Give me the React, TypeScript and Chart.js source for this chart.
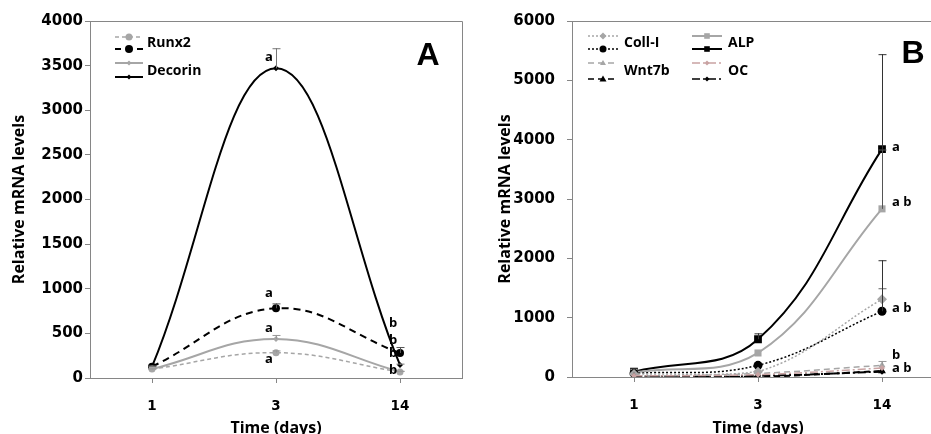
import React, { useEffect, useRef } from 'react';
import { Chart, registerables } from 'chart.js';

Chart.register(...registerables);

// ---------- shared ----------
const days = ['1', '3', '14'];

// ---------- Panel A ----------
const yMaxA = 4000;
const yStepA = 500;
const runx2Gray = [100, 284, 68];
const runx2GrayErr = [8, 25, 12];
const runx2Black = [127, 781, 280];
const runx2BlackErr = [12, 55, 67];
const decorinGray = [100, 437, 70];
const decorinGrayErr = [8, 45, 10];
const decorinBlack = [127, 3470, 146];
const decorinBlackErr = [10, 225, 15];
const lettersA = [
  { day: 1, value: 3597, text: 'a' },
  { day: 1, value: 952, text: 'a' },
  { day: 1, value: 560, text: 'a' },
  { day: 1, value: 213, text: 'a' },
  { day: 2, value: 616, text: 'b' },
  { day: 2, value: 426, text: 'b' },
  { day: 2, value: 280, text: 'b' },
  { day: 2, value: 90, text: 'b' },
];

// ---------- Panel B ----------
const yMaxB = 6000;
const yStepB = 1000;
const coll1Gray = [50, 90, 1311];
const coll1GrayErr = [0, 0, 185];
const coll1Black = [60, 197, 1108];
const coll1BlackErr = [0, 0, 860];
const wnt7bGray = [10, 60, 197];
const wnt7bGrayErr = [0, 0, 73];
const wnt7bBlack = [5, 5, 101];
const wnt7bBlackErr = [0, 0, 0];
const alpGray = [80, 405, 2834];
const alpGrayErr = [0, 0, 1000];
const alpBlack = [90, 636, 3841];
const alpBlackErr = [0, 100, 1600];
const ocGray = [20, 40, 150];
const ocBlack = [10, 20, 90];
const lettersB = [
  { day: 2, value: 3875, text: 'a' },
  { day: 2, value: 2947, text: 'a b' },
  { day: 2, value: 1159, text: 'a b' },
  { day: 2, value: 366, text: 'b' },
  { day: 2, value: 147, text: 'a b' },
];

const GRAY = '#a6a6a6';
const PINK = '#c9a3a3';
const BLACK = '#000000';
const AXIS = '#868686';

const DOTTED = [2, 2];
const DASHED = [6, 4];
const DASHDOT = [8, 3, 2, 3];

// ---------- helpers ----------
function drawMarker(ctx: CanvasRenderingContext2D, style: string, x: number, y: number, r: number, color: string) {
  ctx.save();
  ctx.setLineDash([]);
  ctx.fillStyle = color;
  ctx.beginPath();
  if (style === 'circle') {
    ctx.arc(x, y, r, 0, Math.PI * 2);
  } else if (style === 'rect') {
    ctx.rect(x - r * 0.8, y - r * 0.8, r * 1.6, r * 1.6);
  } else if (style === 'rectRot') {
    ctx.moveTo(x, y - r);
    ctx.lineTo(x + r, y);
    ctx.lineTo(x, y + r);
    ctx.lineTo(x - r, y);
    ctx.closePath();
  } else if (style === 'triangle') {
    ctx.moveTo(x, y - r);
    ctx.lineTo(x + r, y + r * 0.7);
    ctx.lineTo(x - r, y + r * 0.7);
    ctx.closePath();
  }
  ctx.fill();
  ctx.restore();
}

type LegendSample = { x1: number; x2: number; y: number; color: string; dash: number[]; width: number; marker: string; r: number };
type LegendText = { x: number; y: number; text: string };

function makeDecorPlugin(opts: {
  samples: LegendSample[];
  texts: LegendText[];
  letters: { day: number; value: number; text: string }[];
  letterDx: number;
  letterAlign: CanvasTextAlign;
  big: { x: number; y: number; text: string };
}) {
  return {
    id: 'decor',
    beforeDatasetsDraw(chart: any) {
      const { ctx, chartArea } = chart;
      ctx.save();
      ctx.strokeStyle = AXIS;
      ctx.lineWidth = 1;
      ctx.beginPath();
      ctx.moveTo(chartArea.left, chartArea.top + 0.5);
      ctx.lineTo(chartArea.right + 0.5, chartArea.top + 0.5);
      ctx.lineTo(chartArea.right + 0.5, chartArea.bottom);
      ctx.stroke();
      ctx.restore();
    },
    afterDatasetsDraw(chart: any) {
      const { ctx } = chart;
      const ys = chart.scales.y;
      // error bars (upper)
      chart.data.datasets.forEach((ds: any, i: number) => {
        const errs: number[] | undefined = ds.errors;
        if (!errs) return;
        const meta = chart.getDatasetMeta(i);
        meta.data.forEach((pt: any, j: number) => {
          const e = errs[j];
          if (!e) return;
          const top = ys.getPixelForValue((ds.data[j] as number) + e);
          ctx.save();
          ctx.setLineDash([]);
          ctx.strokeStyle = ds.errorColor || '#555';
          ctx.lineWidth = 1;
          ctx.beginPath();
          ctx.moveTo(pt.x + 0.5, pt.y);
          ctx.lineTo(pt.x + 0.5, top);
          ctx.moveTo(pt.x - 3.5, top + 0.5);
          ctx.lineTo(pt.x + 4.5, top + 0.5);
          ctx.stroke();
          ctx.restore();
        });
      });
      // legend samples
      opts.samples.forEach((s) => {
        ctx.save();
        ctx.strokeStyle = s.color;
        ctx.lineWidth = s.width;
        ctx.setLineDash(s.dash);
        ctx.beginPath();
        ctx.moveTo(s.x1, s.y);
        ctx.lineTo(s.x2, s.y);
        ctx.stroke();
        ctx.restore();
        drawMarker(ctx, s.marker, (s.x1 + s.x2) / 2, s.y, s.r, s.color);
      });
      ctx.save();
      ctx.fillStyle = '#000';
      ctx.font = 'bold 14px "Open Sans"';
      ctx.textAlign = 'left';
      ctx.textBaseline = 'middle';
      opts.texts.forEach((t) => ctx.fillText(t.text, t.x, t.y));
      // significance letters
      const xs = chart.scales.x;
      ctx.font = 'bold 13px "Open Sans"';
      ctx.textAlign = opts.letterAlign;
      opts.letters.forEach((l) => {
        ctx.fillText(l.text, xs.getPixelForValue(l.day) + opts.letterDx, ys.getPixelForValue(l.value));
      });
      // panel letter
      ctx.font = 'bold 32px "Liberation Sans"';
      ctx.textAlign = 'center';
      ctx.fillText(opts.big.text, opts.big.x, opts.big.y);
      ctx.restore();
    },
  };
}

function makeScales(o: { yMax: number; yStep: number; yWidth: number; xHeight: number; yTickPad: number; yTitlePad: number; xTitlePad: number }) {
  return {
    x: {
      type: 'category',
      offset: true,
      grid: { display: true, drawOnChartArea: false, drawTicks: true, tickLength: 5, color: AXIS, offset: false },
      border: { display: true, color: AXIS, width: 1 },
      ticks: { font: { family: 'DejaVu Sans', weight: 'bold', size: 13.5 }, color: '#000', padding: 15 },
      title: {
        display: true,
        text: 'Time (days)',
        color: '#000',
        font: { family: 'Open Sans', weight: 'bold', size: 16 },
        padding: { top: 0, bottom: o.xTitlePad },
      },
      afterFit: (s: any) => {
        s.height = o.xHeight;
      },
    },
    y: {
      type: 'linear',
      min: 0,
      max: o.yMax,
      grid: { display: true, drawOnChartArea: false, drawTicks: true, tickLength: 5, color: AXIS },
      border: { display: true, color: AXIS, width: 1 },
      ticks: {
        stepSize: o.yStep,
        font: { family: 'DejaVu Sans', weight: 'bold', size: 15 },
        color: '#000',
        padding: o.yTickPad,
        callback: (v: any) => String(v),
      },
      title: {
        display: true,
        text: 'Relative mRNA levels',
        color: '#000',
        font: { family: 'Open Sans', weight: 'bold', size: 16 },
        padding: { top: o.yTitlePad, bottom: 0 },
      },
      afterFit: (s: any) => {
        s.width = o.yWidth;
      },
    },
  };
}

function ds(label: string, data: number[], color: string, dash: number[], width: number, marker: string, r: number, errors?: number[], errorColor?: string) {
  return {
    label,
    data,
    borderColor: color,
    backgroundColor: color,
    borderWidth: width,
    borderDash: dash,
    pointStyle: marker,
    pointRadius: r,
    pointHoverRadius: r,
    pointBackgroundColor: color,
    pointBorderColor: color,
    pointBorderWidth: 0,
    tension: 0.4,
    fill: false,
    errors,
    errorColor,
  };
}

function configA(): any {
  const samples: LegendSample[] = [
    { x1: 115, x2: 143, y: 37, color: GRAY, dash: [4, 3], width: 1.5, marker: 'circle', r: 3.5 },
    { x1: 115, x2: 143, y: 49, color: BLACK, dash: [6, 5], width: 2, marker: 'circle', r: 4 },
    { x1: 115, x2: 143, y: 63, color: GRAY, dash: [], width: 2, marker: 'rectRot', r: 2.5 },
    { x1: 115, x2: 143, y: 77, color: BLACK, dash: [], width: 2, marker: 'rectRot', r: 2.5 },
  ];
  return {
    type: 'line',
    data: {
      labels: days,
      datasets: [
        ds('Runx2', runx2Gray, GRAY, [4, 3], 1.5, 'circle', 3.5, runx2GrayErr, '#999'),
        ds('Decorin', decorinGray, GRAY, [], 2, 'rectRot', 3, decorinGrayErr, '#999'),
        ds('Runx2', runx2Black, BLACK, [7, 5], 2, 'circle', 4, runx2BlackErr, '#555'),
        ds('Decorin', decorinBlack, BLACK, [], 2, 'rectRot', 3, decorinBlackErr, '#777'),
      ],
    },
    options: {
      responsive: false,
      animation: false,
      layout: { padding: { left: 0, right: 8, top: 21, bottom: 0 } },
      plugins: { legend: { display: false }, tooltip: { enabled: false } },
      scales: makeScales({ yMax: yMaxA, yStep: yStepA, yWidth: 90, xHeight: 72, yTickPad: 2, yTitlePad: 9.4, xTitlePad: 12.4 }),
    },
    plugins: [
      makeDecorPlugin({
        samples,
        texts: [
          { x: 147, y: 43, text: 'Runx2' },
          { x: 147, y: 71, text: 'Decorin' },
        ],
        letters: lettersA,
        letterDx: -7,
        letterAlign: 'center',
        big: { x: 428, y: 56, text: 'A' },
      }),
    ],
  };
}

function configB(): any {
  const off = 470;
  const samples: LegendSample[] = [
    { x1: 588 - off, x2: 618 - off, y: 36, color: GRAY, dash: DOTTED, width: 1.5, marker: 'rectRot', r: 3.5 },
    { x1: 588 - off, x2: 618 - off, y: 49, color: BLACK, dash: DOTTED, width: 1.5, marker: 'circle', r: 3.5 },
    { x1: 588 - off, x2: 618 - off, y: 63, color: GRAY, dash: DASHED, width: 1.5, marker: 'triangle', r: 3 },
    { x1: 588 - off, x2: 618 - off, y: 79, color: BLACK, dash: DASHED, width: 1.5, marker: 'triangle', r: 3.5 },
    { x1: 692 - off, x2: 722 - off, y: 36, color: GRAY, dash: [], width: 2, marker: 'rect', r: 3.5 },
    { x1: 692 - off, x2: 722 - off, y: 49, color: BLACK, dash: [], width: 2, marker: 'rect', r: 3.5 },
    { x1: 692 - off, x2: 722 - off, y: 63, color: PINK, dash: DASHDOT, width: 1.5, marker: 'rectRot', r: 2.5 },
    { x1: 692 - off, x2: 722 - off, y: 79, color: BLACK, dash: DASHDOT, width: 1.5, marker: 'rectRot', r: 2.5 },
  ];
  return {
    type: 'line',
    data: {
      labels: days,
      datasets: [
        ds('OC', ocGray, PINK, DASHDOT, 1.5, 'rectRot', 3),
        ds('OC', ocBlack, BLACK, DASHDOT, 2, 'rectRot', 3),
        ds('Wnt7b', wnt7bGray, GRAY, DASHED, 1.5, 'triangle', 4, wnt7bGrayErr, '#999'),
        ds('Wnt7b', wnt7bBlack, BLACK, DASHED, 2, 'triangle', 4.5, wnt7bBlackErr, '#555'),
        ds('Coll-I', coll1Gray, GRAY, DOTTED, 1.5, 'rectRot', 5, coll1GrayErr, '#666'),
        ds('Coll-I', coll1Black, BLACK, DOTTED, 1.5, 'circle', 4.5, coll1BlackErr, '#333'),
        ds('ALP', alpGray, GRAY, [], 2, 'rect', 5, alpGrayErr, '#555'),
        ds('ALP', alpBlack, BLACK, [], 2, 'rect', 5.5, alpBlackErr, '#333'),
      ],
    },
    options: {
      responsive: false,
      animation: false,
      layout: { padding: { left: 0, right: 8, top: 21, bottom: 0 } },
      plugins: { legend: { display: false }, tooltip: { enabled: false } },
      scales: makeScales({ yMax: yMaxB, yStep: yStepB, yWidth: 102, xHeight: 73, yTickPad: 12, yTitlePad: 25.4, xTitlePad: 12.4 }),
    },
    plugins: [
      makeDecorPlugin({
        samples,
        texts: [
          { x: 624 - off, y: 43, text: 'Coll-I' },
          { x: 624 - off, y: 71, text: 'Wnt7b' },
          { x: 728 - off, y: 43, text: 'ALP' },
          { x: 728 - off, y: 71, text: 'OC' },
        ],
        letters: lettersB,
        letterDx: 10,
        letterAlign: 'left',
        big: { x: 913 - off, y: 54, text: 'B' },
      }),
    ],
  };
}

function Panel({ left, width, height, make }: { left: number; width: number; height: number; make: () => any }) {
  const ref = useRef<HTMLCanvasElement>(null);
  useEffect(() => {
    if (!ref.current) return;
    const chart = new Chart(ref.current, make());
    return () => chart.destroy();
  }, [make]);
  return (
    <div style={{ position: 'absolute', left, top: 0, width, height }}>
      <canvas ref={ref} width={width} height={height} style={{ display: 'block' }} />
    </div>
  );
}

export default function App() {
  return (
    <div style={{ position: 'fixed', left: 0, top: 0, width: 931, height: 434, overflow: 'hidden', background: '#fff' }}>
      <Panel left={0} width={470} height={450} make={configA} />
      <Panel left={470} width={482} height={450} make={configB} />
    </div>
  );
}
